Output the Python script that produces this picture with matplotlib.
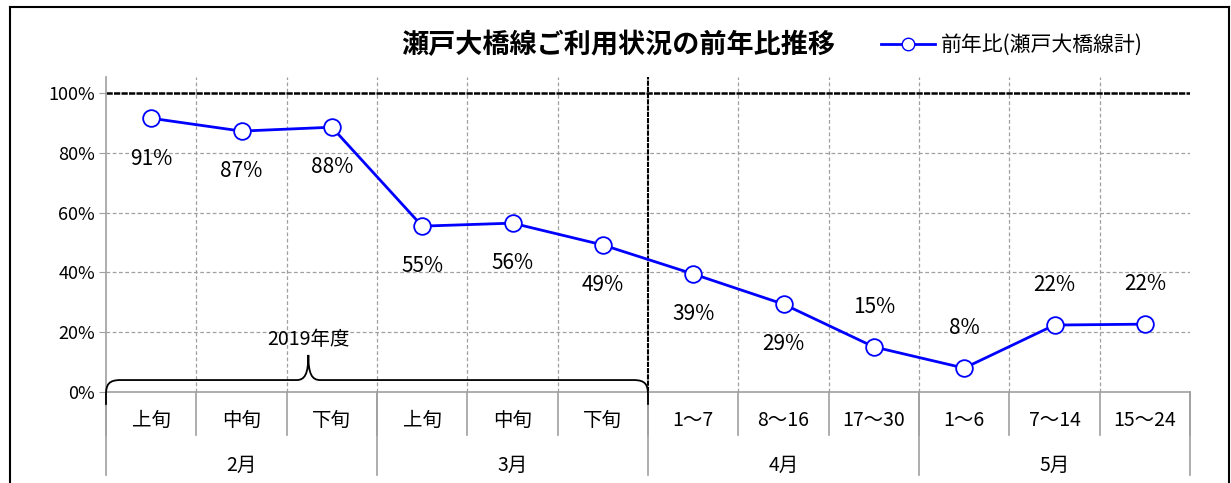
import matplotlib.pyplot as plt
from matplotlib.path import Path
from matplotlib.patches import PathPatch
from matplotlib.lines import Line2D

plt.rcParams['font.family'] = ['Noto Sans CJK JP', 'DejaVu Sans']

# データ
periods = ['上旬', '中旬', '下旬', '上旬', '中旬', '下旬',
           '1～7', '8～16', '17～30', '1～6', '7～14', '15～24']
months = ['2月', '3月', '4月', '5月']
month_spans = [3, 3, 3, 3]
ratio = [91.6, 87.3, 88.6, 55.5, 56.5, 49.2, 39.5, 29.4, 15.1, 8.0, 22.4, 22.7]
ratio_labels = ['91%', '87%', '88%', '55%', '56%', '49%',
                '39%', '29%', '15%', '8%', '22%', '22%']
# ラベルを点の下(-1)か上(+1)に置く
label_side = [-1, -1, -1, -1, -1, -1, -1, -1, 1, 1, 1, 1]

blue = '#0000ff'
grey = '#a0a0a0'

fig = plt.figure(figsize=(12.31, 4.83), dpi=100)
ax = fig.add_axes([106 / 1231, 91 / 483, 1084 / 1231, 315 / 483])

x = [i + 0.5 for i in range(len(ratio))]
ax.plot(x, ratio, color=blue, lw=2, marker='o', markersize=12,
        markerfacecolor='white', markeredgecolor=blue, markeredgewidth=1.3,
        zorder=5)
for xi, v, lab, side in zip(x, ratio, ratio_labels, label_side):
    ax.annotate(lab, (xi, v), xytext=(0, 29 * side), textcoords='offset points',
                ha='center', va='center', fontsize=15)

ax.set_xlim(0, len(ratio))
ax.set_ylim(0, 105.4)

# グリッド
for yv in [20, 40, 60, 80]:
    ax.axhline(yv, color=grey, lw=0.9, ls=(0, (3, 2)), zorder=1)
for b in range(1, len(ratio)):
    if b == 6:
        continue
    ax.axvline(b, color=grey, lw=0.9, ls=(0, (3, 2)), zorder=1)
ax.axhline(100, color='black', lw=1.8, ls=(0, (2.5, 0.5)), zorder=2)
ax.plot([6, 6], [0, 105.4], color='black', lw=1.5, ls=(0, (2.5, 0.5)), zorder=2)

for s in ['top', 'right']:
    ax.spines[s].set_visible(False)
ax.spines['left'].set_color(grey)
ax.spines['bottom'].set_color(grey)
ax.spines['left'].set_linewidth(1.2)
ax.spines['bottom'].set_linewidth(1.2)

ax.set_yticks([0, 20, 40, 60, 80, 100])
ax.set_yticklabels([f'{t}%' for t in [0, 20, 40, 60, 80, 100]])
ax.tick_params(axis='y', length=5, color=grey, labelsize=13, pad=3)
ax.set_xticks([])

# 下の2段のカテゴリ軸
tr = ax.get_xaxis_transform()
for i, p in enumerate(periods):
    ax.text(i + 0.5, -0.089, p, transform=tr, ha='center', va='center',
            fontsize=14)
for b in range(len(periods) + 1):
    ax.plot([b, b], [0, -0.137], transform=tr, color=grey, lw=1.2,
            clip_on=False)
pos = 0
for m, span in zip(months, month_spans):
    ax.text(pos + span / 2, -0.232, m, transform=tr, ha='center',
            va='center', fontsize=14)
    ax.plot([pos, pos], [0, -0.264], transform=tr, color=grey, lw=1.2,
            clip_on=False)
    pos += span
ax.plot([pos, pos], [0, -0.264], transform=tr, color=grey, lw=1.2,
        clip_on=False)

# 2019年度の括弧
verts = [(0, -4.3), (0, -1),
         (0, 2.5), (0.03, 4.0), (0.16, 4.0),
         (2.11, 4.0),
         (2.2, 4.0), (2.24, 6.0), (2.24, 12.4),
         (2.24, 6.0), (2.28, 4.0), (2.37, 4.0),
         (5.84, 4.0),
         (5.97, 4.0), (6, 2.5), (6, -1),
         (6, -4.3)]
codes = [Path.MOVETO, Path.LINETO,
         Path.CURVE4, Path.CURVE4, Path.CURVE4,
         Path.LINETO,
         Path.CURVE4, Path.CURVE4, Path.CURVE4,
         Path.CURVE4, Path.CURVE4, Path.CURVE4,
         Path.LINETO,
         Path.CURVE4, Path.CURVE4, Path.CURVE4,
         Path.LINETO]
ax.add_patch(PathPatch(Path(verts, codes), fill=False, lw=1.3,
                       edgecolor='black', clip_on=False, zorder=4))
ax.text(2.24, 17.5, '2019年度', ha='center', va='center', fontsize=14)

# タイトルと凡例
fig.text(618 / 1231, 1 - 45 / 483, '瀬戸大橋線ご利用状況の前年比推移',
         ha='center', va='center', fontsize=19.5, fontweight='bold')
handle = Line2D([], [], color=blue, lw=2, marker='o', markersize=9,
                markerfacecolor='white', markeredgecolor=blue)
fig.legend([handle], ['前年比(瀬戸大橋線計)'], loc='center left',
           bbox_to_anchor=(862 / 1231, 1 - 45 / 483), frameon=False,
           fontsize=15, handlelength=2.6, handletextpad=0.3)

# 外枠
for xs, ys in [([10, 10], [7, 483]), ([10, 1229], [7, 7]),
               ([1229, 1229], [7, 483])]:
    fig.add_artist(Line2D([v / 1231 for v in xs], [1 - v / 483 for v in ys],
                          color='black', lw=1.5))

fig.savefig('out.png', dpi=100)
